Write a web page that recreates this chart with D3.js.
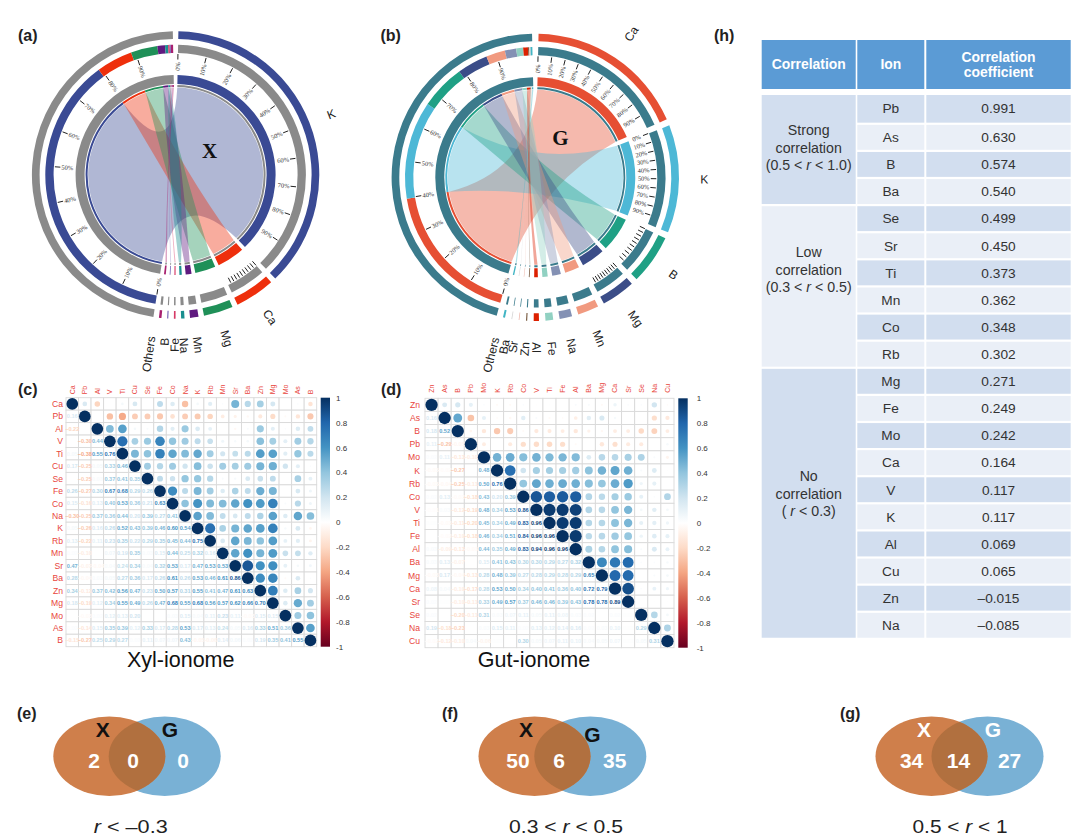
<!DOCTYPE html>
<html><head><meta charset="utf-8">
<script src="https://cdn.jsdelivr.net/npm/d3@7"></script>
<style>html,body{margin:0;padding:0;background:#fff}svg{display:block}text{font-family:"Liberation Sans",Arial,sans-serif}</style>
</head><body><svg id="c" width="1080" height="838"></svg>
<script>
// ---------- data ----------
const ionsA = ["K","Ca","Mg","Mn","Na","Fe","B","Others"];
const sharesA = [79.4,9.5,7,2,0.8,0.4,0.3,0.6];
const colorsA = ["#3a4a94","#ee2f0c","#1f9058","#5f1a7f","#1a8f8f","#d63a66","#7f70bb","#a8206f"];
const labelledA = ["K"];
const tickedA = ["K","Ca"];

const ionsB = ["Ca","K","B","Mg","Mn","Na","Fe","Al","Zn","Sr","Ba","Others"];
const sharesB = [39.8,26.8,12.3,8.4,5.2,3.1,1.9,1.3,0.3,0.2,0.2,0.5];
const colorsB = ["#e64f33","#4db8d6","#1fa085","#3b4d88","#f19a80","#8491b4","#91d1c2","#dc2000","#7e6148","#eebbb0","#d5d5d5","#42b5c4"];
const labelledB = ["Ca","K"];
const tickedB = ["Ca","K","B","Mg"];

const namesC = ["Ca","Pb","Al","V","Ti","Cu","Se","Fe","Co","Na","K","Rb","Mn","Sr","Ba","Zn","Mg","Mo","As","B"];
const lowerC = [
[],
[.16],
[-.22,.0],
[0,-.30,.44],
[.05,-.38,.55,.76],
[.17,-.25,.05,.33,.46],
[0,-.25,.03,.37,.41,.35],
[.26,-.27,.30,.67,.68,.29,.26],
[.15,-.16,.13,.40,.53,.36,.21,.63],
[-.30,-.25,.37,.36,.44,.20,.39,.27,.41],
[.05,-.26,.16,.26,.52,.43,.39,.46,.60,.54],
[.13,-.22,.11,.23,.35,.22,.29,.35,.45,.44,.75],
[.02,-.10,0,.07,.19,.35,.03,.15,.44,.25,.32,.16],
[.47,-.07,-.04,.04,.24,.34,.04,.32,.53,.17,.47,.53,.53],
[.28,-.04,.03,.05,.27,.36,.17,.26,.61,.26,.53,.46,.61,.86],
[.34,-.12,.37,.42,.56,.47,.23,.50,.57,.31,.55,.41,.47,.61,.63],
[.18,-.19,.12,.34,.55,.49,.26,.47,.68,.55,.68,.56,.57,.62,.66,.70],
[0,-.03,.02,.12,.13,.20,0,0,.03,.15,.04,.11,.23,.11,-.03,.15,.15],
[.02,-.14,.15,.35,.39,.12,.33,.17,.28,.53,.17,.13,.24,.05,.16,.33,.51,.36],
[-.15,-.27,.25,.29,.27,.02,.11,.07,.07,.43,-.05,-.06,.14,.06,.02,.19,.35,.41,.55]
];
const namesD = ["Zn","As","B","Pb","Mo","K","Rb","Co","V","Ti","Fe","Al","Ba","Mg","Ca","Sr","Se","Na","Cu"];
const lowerD = [
[],
[.16],
[.18,.52],
[.11,-.29,-.05],
[.02,.11,-.13,-.10],
[-.03,-.02,-.27,0,.48],
[-.03,-.04,-.25,-.11,.50,.76],
[.02,.13,-.03,-.18,.43,.20,.39],
[-.01,.03,-.12,-.19,.48,.34,.53,.86],
[.01,-.03,-.11,-.20,.45,.34,.49,.83,.96],
[0,-.02,-.10,-.18,.46,.34,.51,.84,.96,.96],
[.03,-.09,-.13,-.03,.44,.35,.49,.83,.94,.96,.96],
[.03,.13,-.07,0,.15,.41,.43,.30,.30,.29,.27,.32],
[-.03,.17,-.04,-.13,.28,.48,.39,.27,.28,.29,.28,.29,.65],
[.08,.04,-.10,-.17,.28,.53,.50,.34,.40,.41,.36,.40,.72,.79],
[.02,.01,-.10,-.11,.33,.49,.57,.37,.46,.46,.39,.43,.78,.78,.89],
[.02,0,-.20,-.11,.31,.03,.07,.11,.05,.11,.08,.03,.02,0,.02,.01],
[.19,-.18,-.23,0,.03,.15,.11,.02,.13,.12,.14,.16,.02,.03,.10,.01,.29],
[-.02,-.12,-.10,.04,-.06,.01,0,.30,.05,.07,.11,.10,.04,.05,.07,.01,.05,.31]
];
const corrColors = ["#67001F","#B2182B","#D6604D","#F4A582","#FDDBC7","#FFFFFF","#D1E5F0","#92C5DE","#4393C3","#2166AC","#053061"];
const barTicks = [1,.8,.6,.4,.2,0,-.2,-.4,-.6,-.8,-1];

const tableHead = [["Correlation"],["Ion"],["Correlation","coefficient"]];
const tableIons = ["Pb","As","B","Ba","Se","Sr","Ti","Mn","Co","Rb","Mg","Fe","Mo","Ca","V","K","Al","Cu","Zn","Na"];
const tableCoef = ["0.991","0.630","0.574","0.540","0.499","0.450","0.373","0.362","0.348","0.302","0.271","0.249","0.242","0.164","0.117","0.117","0.069","0.065","–0.015","–0.085"];
const tableGroupSizes = [4,6,10];
const tableGroupText = [["Strong","correlation","(0.5 < |r| < 1.0)"],["Low","correlation","(0.3 < |r| < 0.5)"],["No","correlation","( |r| < 0.3)"]];

const vennLeft = [2,50,34];
const vennMid = [0,6,14];
const vennRight = [0,35,27];
const vennCaption = ["|r| < –0.3","0.3 < |r| < 0.5","0.5 < |r| < 1"];
const vennPanel = ["(e)","(f)","(g)"];

// ---------- helpers ----------
const svg = d3.select("#c");
const deg = Math.PI/180;
const DARK="#333";
function richText(sel, str){ // '|r|' becomes an italic r
  str.split("|").forEach((p,i)=>{ sel.append("tspan").attr("font-style", i%2? "italic":"normal").text(p); });
}

// ---------- chord panels ----------
function circos(cx,cy,ions,shares,colors,labelled,ticked,baseColor,gap,centerLetter,letterPos,labelR,nudge){
  const g = svg.append("g").attr("transform",`translate(${cx},${cy})`);
  const n = ions.length+1;
  const span = (360-n*gap)/2;
  const ang = d3.scaleLinear().domain([0,100]).range([0,span]);
  let cur = gap/2; const right=[];
  ions.forEach((d,i)=>{ right.push({a0:cur,a1:cur+ang(shares[i])}); cur+=ang(shares[i])+gap; });
  const leftStart=cur; let lc=leftStart; const left=[];
  ions.forEach((d,i)=>{ left.push({a0:lc,a1:lc+ang(shares[i])}); lc+=ang(shares[i]); });
  const arc=(r0,r1,a0,a1,fill)=>g.append("path")
    .attr("d",d3.arc()({innerRadius:r0,outerRadius:r1,startAngle:a0*deg,endAngle:a1*deg})).attr("fill",fill);
  const R=87.5;
  const pt=(a,r=R)=>[r*Math.sin(a*deg),-r*Math.cos(a*deg)];
  // ribbons: each side bends round a control point a fixed small distance from the centre
  ions.forEach((d,i)=>{
    const s=right[i], t=left[i];
    const p=d3.path();
    const ctrl=(a,b)=>{const A=pt(a),B=pt(b),mx=(A[0]+B[0])/2,my=(A[1]+B[1])/2,m=Math.hypot(mx,my)||1;
      return [mx/m*R*0.1,my/m*R*0.1];};
    const s0=pt(s.a0),t0=pt(t.a0);
    p.moveTo(s0[0],s0[1]);
    p.arc(0,0,R,(s.a0-90)*deg,(s.a1-90)*deg);
    const c1=ctrl(s.a1,t.a0); p.quadraticCurveTo(c1[0],c1[1],t0[0],t0[1]);
    p.arc(0,0,R,(t.a0-90)*deg,(t.a1-90)*deg);
    const c2=ctrl(t.a1,s.a0); p.quadraticCurveTo(c2[0],c2[1],s0[0],s0[1]);
    p.closePath();
    g.append("path").attr("d",p.toString()).attr("fill",colors[i]).attr("fill-opacity",.4);
  });
  // right side bands
  ions.forEach((d,i)=>{
    const s=right[i];
    arc(136,143.7,s.a0,s.a1,colors[i]);
    arc(122,130.3,s.a0,s.a1,baseColor);
    arc(91,100,s.a0,s.a1,colors[i]);
    arc(88,90,s.a0,s.a1,baseColor);
  });
  // left sector
  const lEnd=lc;
  arc(136,143.7,leftStart,lEnd,baseColor);
  arc(91,100,leftStart,lEnd,baseColor);
  ions.forEach((d,i)=>{
    const t=left[i];
    arc(122,130.3,t.a0,t.a1,colors[i]);
    arc(88,90,t.a0,t.a1,colors[i]);
  });
  // ticks
  const tickVals=d3.range(0,100,10);
  const tickGroup=(a0,a1,withLabel)=>{
    const sc=d3.scaleLinear().domain([0,100]).range([a0,a1]);
    tickVals.forEach(v=>{
      const a=sc(v); const p0=pt(a,115.5),p1=pt(a,121);
      g.append("line").attr("x1",p0[0]).attr("y1",p0[1]).attr("x2",p1[0]).attr("y2",p1[1])
        .attr("stroke","#222").attr("stroke-width",1);
      if(withLabel){
        const pL=pt(a,108.5);
        const rot=a<180?a-90:a+90;
        g.append("text").attr("transform",`translate(${pL[0]},${pL[1]}) rotate(${rot})`)
          .attr("text-anchor","middle").attr("dy","0.35em")
          .style("font-family","'Liberation Serif',serif").attr("font-size",6.4).attr("fill","#333").text(v+"%");
      }
    });
  };
  ions.forEach((d,i)=>{ if(ticked.includes(d)) tickGroup(right[i].a0,right[i].a1,labelled.includes(d)); });
  tickGroup(leftStart,lEnd,true);
  // sector labels
  ions.forEach((d,i)=>{
    const a=(right[i].a0+right[i].a1)/2+nudge(d), p=pt(a,labelR), flip=a>180;
    g.append("text").attr("transform",`translate(${p[0]},${p[1]}) rotate(${flip?a+90:a-90})`)
      .attr("text-anchor",flip?"end":"start").attr("dy","0.35em").attr("font-size",12).attr("fill","#222").text(d);
  });
  g.append("text").attr("x",letterPos[0]).attr("y",letterPos[1]).attr("text-anchor","middle")
    .style("font-family","'Liberation Serif',serif").attr("font-weight","bold").attr("font-size",21).attr("fill","#111").text(centerLetter);
}
circos(175.6,175,ionsA,sharesA,colorsA,labelledA,tickedA,"#8a8a8a",20/9,"X",[34,-17],163,d=>d==="Others"?2.4:(d==="B"?.6:0));
circos(535.3,177.3,ionsB,sharesB,colorsB,labelledB,tickedB,"#3b7b8c",2.6,"G",[25,-32],165,d=>d==="Others"?1.4:((d==="Ba"||d==="Sr")?1:0));

// ---------- correlation panels ----------
const corrScale=d3.scaleLinear().domain(d3.range(-1,1.0001,.2)).range(corrColors);
let gradCount=0;
function corr(names,lower,x0,x1,y0,y1,bx0,bx1,title,titleX,leftGap,topGap,barPad){
  const g=svg.append("g");
  const x=d3.scaleBand().domain(names).range([x0,x1]);
  const y=d3.scaleBand().domain(names).range([y0,y1]);
  const rad=d3.scaleSqrt().domain([0,1]).range([0,Math.min(x.bandwidth(),y.bandwidth())*.47]);
  const val=(i,j)=> i===j?1:(lower[Math.max(i,j)][Math.min(i,j)]);
  names.forEach((rn,i)=>names.forEach((cn,j)=>{
    g.append("rect").attr("x",x(cn)).attr("y",y(rn)).attr("width",x.bandwidth()).attr("height",y.bandwidth())
      .attr("fill","#fff").attr("stroke","#d9d9d9").attr("stroke-width",.9);
  }));
  names.forEach((rn,i)=>names.forEach((cn,j)=>{
    const v=val(i,j); const cxx=x(cn)+x.bandwidth()/2, cyy=y(rn)+y.bandwidth()/2;
    if(j>=i){ if(v!==0) g.append("circle").attr("cx",cxx).attr("cy",cyy).attr("r",rad(Math.abs(v))).attr("fill",corrScale(v)); }
    else if(v!==0){ g.append("text").attr("x",cxx).attr("y",cyy).attr("dy","0.35em").attr("text-anchor","middle")
      .attr("font-size",5.6).attr("font-weight","bold").attr("fill",corrScale(v)).text(d3.format(".2f")(v)); }
  }));
  names.forEach(n=>{
    g.append("text").attr("x",x0-leftGap).attr("y",y(n)+y.bandwidth()/2).attr("dy","0.35em").attr("text-anchor","end")
      .attr("font-size",8.6).attr("fill","#e8453c").text(n);
    g.append("text").attr("transform",`translate(${x(n)+x.bandwidth()/2},${y0-topGap}) rotate(-90)`).attr("dy","0.35em")
      .attr("font-size",7).attr("fill","#e8453c").text(n);
  });
  const id="grad"+(gradCount++);
  const lg=svg.append("defs").append("linearGradient").attr("id",id).attr("x1",0).attr("x2",0).attr("y1",1).attr("y2",0);
  corrColors.forEach((c,i)=>lg.append("stop").attr("offset",i/(corrColors.length-1)).attr("stop-color",c));
  g.append("rect").attr("x",bx0).attr("y",y0).attr("width",bx1-bx0).attr("height",y1-y0).attr("fill",`url(#${id})`);
  const by=d3.scaleLinear().domain([-1,1]).range([y1,y0]);
  const ax=d3.axisRight(by).tickValues(barTicks).tickSize(0).tickPadding(barPad).tickFormat(d=>String(+d.toFixed(1)));
  const axG=g.append("g").attr("transform",`translate(${bx1},0)`).call(ax);
  axG.select(".domain").remove();
  axG.selectAll("text").attr("font-size",8).attr("fill","#333").style("font-family","'Liberation Sans',sans-serif");
  g.append("text").attr("x",titleX).attr("y",667).attr("text-anchor","middle").attr("font-size",21.5).attr("fill","#111").text(title);
}
corr(namesC,lowerC,66,316.7,397.7,646.7,320.7,330,"Xyl-ionome",180.7,3,3.4,6);
corr(namesD,lowerD,425,674,398.3,647.7,678.3,687.7,"Gut-ionome",534,5,5.6,9);

// ---------- table ----------
const tg=svg.append("g");
const colX=[[761.7,855.7],[857.3,924.3],[926.3,1070.7]];
tableHead.forEach((h,i)=>{
  const [a,b]=colX[i];
  tg.append("rect").attr("x",a).attr("y",40).attr("width",b-a).attr("height",49).attr("fill","#5b9bd5");
  h.forEach((l,k)=>tg.append("text").attr("x",(a+b)/2).attr("y",64.5+(k-(h.length-1)/2)*14.5).attr("dy","0.35em")
    .attr("text-anchor","middle").attr("font-weight","bold").attr("font-size",13.9).attr("fill","#fff").text(l));
});
const rowY=d3.scaleBand().domain(tableIons).range([96.65,638.85]);
const shadeDark="#d2deef", shadeLight="#eaeff7";
const tableTop=95;
tableIons.forEach((ion,i)=>{
  const top=i===0?tableTop:rowY(ion)+1.1, bot=rowY(ion)+rowY.bandwidth()-1.1, h=bot-top, fill=i%2?shadeLight:shadeDark;
  tg.append("rect").attr("x",colX[1][0]).attr("y",top).attr("width",colX[1][1]-colX[1][0]).attr("height",h).attr("fill",fill);
  tg.append("rect").attr("x",colX[2][0]).attr("y",top).attr("width",colX[2][1]-colX[2][0]).attr("height",h).attr("fill",fill);
  tg.append("text").attr("x",(colX[1][0]+colX[1][1])/2).attr("y",top+h/2-(i===0?1:0)).attr("dy","0.35em").attr("text-anchor","middle")
    .attr("font-size",13.7).attr("fill",DARK).text(ion);
  tg.append("text").attr("x",(colX[2][0]+colX[2][1])/2).attr("y",top+h/2-(i===0?1:0)).attr("dy","0.35em").attr("text-anchor","middle")
    .attr("font-size",13.7).attr("fill",DARK).text(tableCoef[i]);
});
let rowStart=0;
const groupTextY=[147.7,269.7,494];
tableGroupSizes.forEach((sz,k)=>{
  const top=k===0?tableTop:rowY(tableIons[rowStart])+1.1, bot=rowY(tableIons[rowStart])+rowY.bandwidth()*sz-1.1;
  tg.append("rect").attr("x",colX[0][0]).attr("y",top).attr("width",colX[0][1]-colX[0][0]).attr("height",bot-top)
    .attr("fill",k%2?shadeLight:shadeDark);
  tableGroupText[k].forEach((l,q)=>{
    const t=tg.append("text").attr("x",(colX[0][0]+colX[0][1])/2).attr("y",groupTextY[k]+(q-1)*17.5).attr("dy","0.35em")
      .attr("text-anchor","middle").attr("font-size",14.2).attr("fill",DARK);
    richText(t,l);
  });
  rowStart+=sz;
});

// ---------- venn ----------
const vennCx=[[109.3,164.7],[534.5,590.3],[931.5,987.5]];
const vennLetterFill=["#111","#111","#fff"];
const vennLetterX=[[102.7,170],[526,592.5],[924,993]];
const vennLetterY=[[730,730],[730,735],[730,730]];
const vennNumX=[[94,133,183],[518,559,614.7],[911.6,958.5,1009.6]];
const vennCaptionX=[130.7,566,960];
const vennCaptionW=[74,114,95];
const vennLabelX=[17,442,840];
const defs=svg.append("defs");
const vg=svg.append("g");
vennLeft.forEach((d,i)=>{
  const cyV=756.2, rx=56, ry=39.7, [c1,c2]=[vennCx[i][0],vennCx[i][1]];
  vg.append("ellipse").attr("cx",c2).attr("cy",cyV).attr("rx",rx).attr("ry",ry).attr("fill","#79b1d5");
  vg.append("ellipse").attr("cx",c1).attr("cy",cyV).attr("rx",rx).attr("ry",ry).attr("fill","#cf7f4b");
  defs.append("clipPath").attr("id","vc"+i).append("ellipse").attr("cx",c1).attr("cy",cyV).attr("rx",rx).attr("ry",ry);
  vg.append("ellipse").attr("cx",c2).attr("cy",cyV).attr("rx",rx).attr("ry",ry).attr("fill","#b1703f").attr("clip-path",`url(#vc${i})`);
  ["X","G"].forEach((L,k)=>vg.append("text").attr("x",vennLetterX[i][k]).attr("y",vennLetterY[i][k]).attr("dy","0.35em")
    .attr("text-anchor","middle").attr("font-size",21).attr("font-weight","bold").attr("fill",vennLetterFill[i]).text(L));
  [vennLeft[i],vennMid[i],vennRight[i]].forEach((v,k)=>vg.append("text").attr("x",vennNumX[i][k]).attr("y",760.5).attr("dy","0.35em")
    .attr("text-anchor","middle").attr("font-size",21).attr("font-weight","bold").attr("fill","#fff").text(v));
  const t=vg.append("text").attr("x",vennCaptionX[i]).attr("y",833).attr("text-anchor","middle").attr("font-size",18).attr("fill","#222");
  richText(t,vennCaption[i]);
  t.attr("textLength",vennCaptionW[i]).attr("lengthAdjust","spacingAndGlyphs");
  vg.append("text").attr("x",vennLabelX[i]).attr("y",718.5).attr("font-size",16).attr("font-weight","bold").attr("fill","#222").text(vennPanel[i]);
});

// ---------- panel letters ----------
const panelLabels=["(a)","(b)","(c)","(d)","(h)"];
const panelLabelX=[18,380.5,18,381,714];
const panelLabelY=[41,41,395,395,41];
panelLabels.forEach((l,i)=>svg.append("text").attr("x",panelLabelX[i]).attr("y",panelLabelY[i])
  .attr("font-size",16).attr("font-weight","bold").attr("fill","#222").text(l));
</script></body></html>
